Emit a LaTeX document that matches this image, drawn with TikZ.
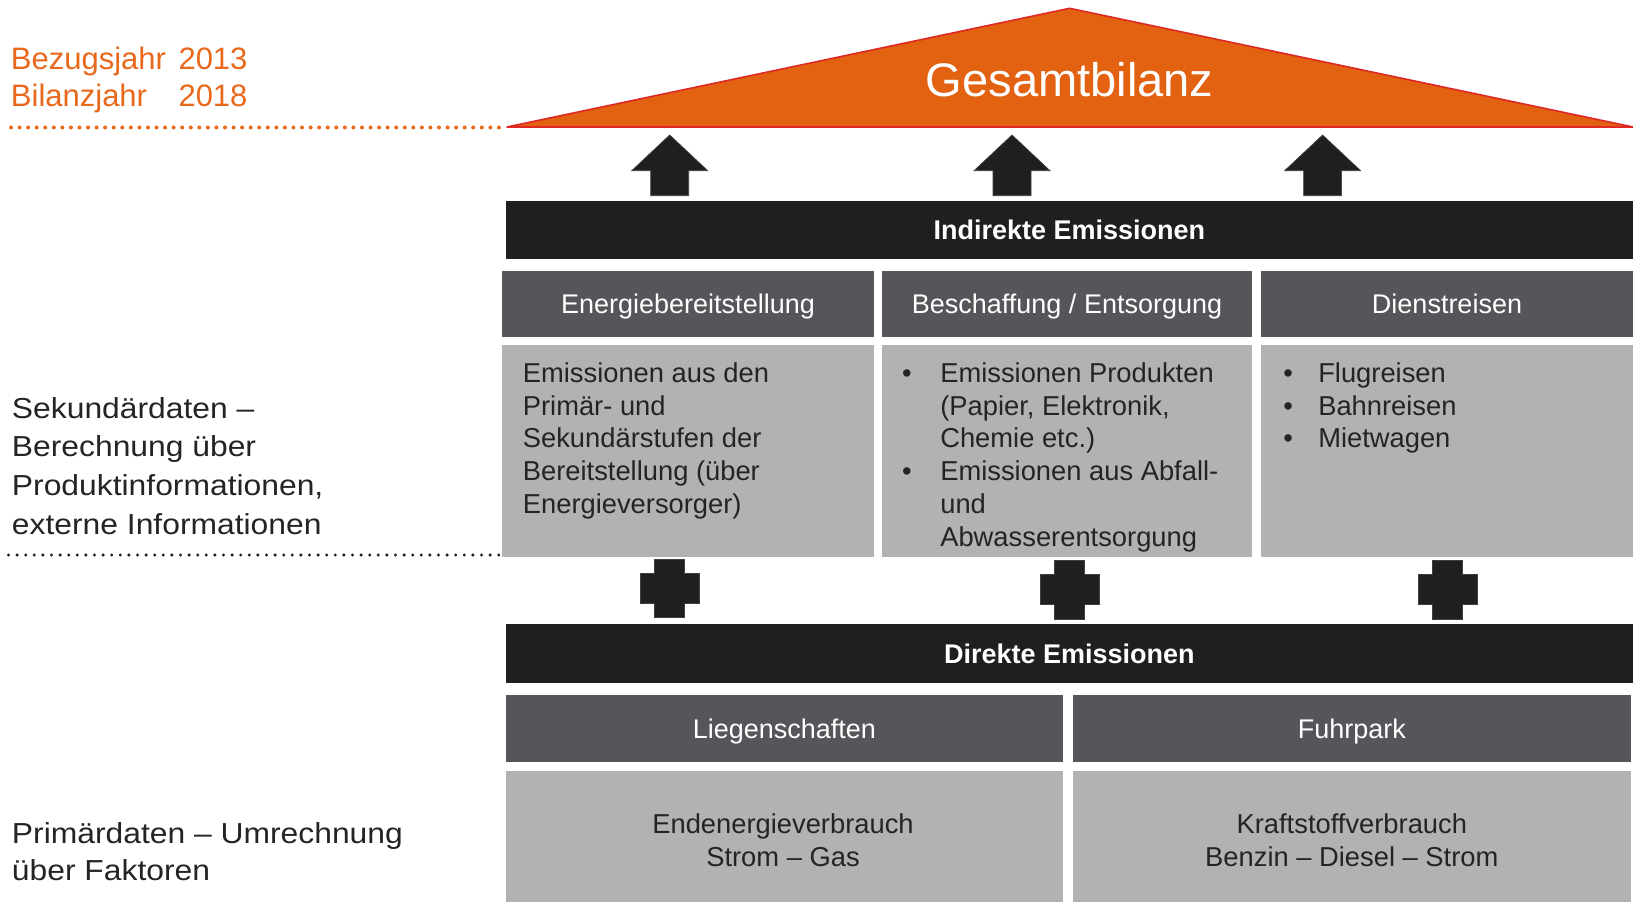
\documentclass[tikz,border=0pt]{standalone}
\usepackage{fontspec}
\setmainfont{Liberation Sans}
\newfontfamily\breitfont[FakeStretch=1.1,Ligatures=TeX]{Liberation Sans}
\usepackage{xcolor}
\definecolor{dachorange}{RGB}{227,98,17}
\definecolor{dachrot}{RGB}{222,40,36}
\definecolor{jahrorange}{RGB}{232,104,28}
\definecolor{balken}{RGB}{31,31,31}
\definecolor{kopfgrau}{RGB}{85,86,90}
\definecolor{feldgrau}{RGB}{178,178,178}
\definecolor{schrift}{RGB}{36,36,36}

\begin{document}
\begin{tikzpicture}[x=0.75pt,y=0.75pt,yscale=-1,xscale=1,
  balkenbox/.style={fill=balken,text=white,inner sep=0pt,minimum width=845.5pt,text depth=0pt,font=\fontsize{20.25}{24}\selectfont\bfseries},
  kopfbox/.style={fill=kopfgrau,text=white,inner sep=0pt,text depth=0pt,font=\fontsize{20.25}{24}\selectfont},
  feldbox/.style={fill=feldgrau,inner sep=0pt},
  feldtext/.style={text=schrift,inner sep=0pt,align=left,font=\fontsize{20.5}{24.7}\selectfont},
  seitentext/.style={text=schrift,inner sep=0pt,align=left},
  blockpfeil/.style={fill=balken,draw=black!75,line width=0.5pt},
  kreuz/.style={fill=balken,draw=black!75,line width=0.5pt}
]
\useasboundingbox (0,0) rectangle (1633,902);

% Dach
\draw  [fill=dachorange,draw=dachrot,line width=1.2pt,line join=round] (507,127) -- (1069.6,8.3) -- (1633,127) -- cycle ;
\draw (1069.6,97) node [anchor=base][inner sep=0pt][text=white][font=\fontsize{35.3}{40}\selectfont] (dach) {Gesamtbilanz};

% Trennlinien
\draw  [color=jahrorange,line width=3pt,line cap=round,dash pattern=on 0pt off 6.42pt]  (11,127.5) -- (507,127.5) ;
\draw  [color=balken,line width=2.5pt,line cap=round,dash pattern=on 0pt off 6.45pt]  (8.5,555) -- (506,555) ;

% Jahre und Datenarten
\draw (10.7,46.5) node [anchor=north west][inner sep=0pt][align=left][text=jahrorange][font=\fontsize{23.25}{28.3}\selectfont] (jahre) {\makebox[125.7pt][l]{Bezugsjahr}2013\\\makebox[125.7pt][l]{Bilanzjahr}2018};
\draw (11.7,397.2) node [anchor=north west][seitentext][font=\breitfont\fontsize{21.7}{28.9}\selectfont] (sekundaer) {Sekundärdaten –\\Berechnung über\\Produktinformationen,\\externe Informationen};
\draw (11.7,822.2) node [anchor=north west][seitentext][font=\breitfont\fontsize{21.7}{27.75}\selectfont] (primaer) {Primärdaten – Umrechnung\\über Faktoren};

% Pfeile nach oben
\draw [blockpfeil,shift={(669.7,0)}] (0,135) -- (38,170.7) -- (19,170.7) -- (19,195.7) -- (-19,195.7) -- (-19,170.7) -- (-38,170.7) -- cycle ;
\draw [blockpfeil,shift={(1012,0)}] (0,135) -- (38,170.7) -- (19,170.7) -- (19,195.7) -- (-19,195.7) -- (-19,170.7) -- (-38,170.7) -- cycle ;
\draw [blockpfeil,shift={(1322.6,0)}] (0,135) -- (38,170.7) -- (19,170.7) -- (19,195.7) -- (-19,195.7) -- (-19,170.7) -- (-38,170.7) -- cycle ;

% Indirekte Emissionen
\draw (1069.35,230.15) node [balkenbox][minimum height=43.7pt] (indirekt) {Indirekte Emissionen};
\draw (688,303.5) node [kopfbox][minimum width=279pt][minimum height=49.5pt] (kEnergie) {Energiebereitstellung};
\draw (1067,303.5) node [kopfbox][minimum width=277.5pt][minimum height=49.5pt] (kBeschaffung) {Beschaffung / Entsorgung};
\draw (1447,303.5) node [kopfbox][minimum width=279pt][minimum height=49.5pt] (kDienst) {Dienstreisen};
\draw (688,450.85) node [feldbox][minimum width=279pt][minimum height=158.8pt] (fEnergie) {};
\draw (1067,450.85) node [feldbox][minimum width=277.5pt][minimum height=158.8pt] (fBeschaffung) {};
\draw (1447,450.85) node [feldbox][minimum width=279pt][minimum height=158.8pt] (fDienst) {};
\draw (522.6,362) node [anchor=north west][feldtext] (tEnergie) {Emissionen aus den\\Primär- und\\Sekundärstufen der\\Bereitstellung (über\\Energieversorger)};
\draw (901.9,362) node [anchor=north west][feldtext] (tBeschaffung) {\makebox[28.6pt][l]{\textbullet}Emissionen Produkten\\\hspace*{28.6pt}(Papier, Elektronik,\\\hspace*{28.6pt}Chemie etc.)\\\makebox[28.6pt][l]{\textbullet}Emissionen aus Abfall-\\\hspace*{28.6pt}und\\\hspace*{28.6pt}Abwasserentsorgung};
\draw (1283.2,362) node [anchor=north west][feldtext] (tDienst) {\makebox[26.1pt][l]{\textbullet}Flugreisen\\\makebox[26.1pt][l]{\textbullet}Bahnreisen\\\makebox[26.1pt][l]{\textbullet}Mietwagen};

% Pluszeichen
\draw [kreuz,shift={(669.7,588.4)}] (-15,-29.3) -- (15,-29.3) -- (15,-15) -- (29.5,-15) -- (29.5,15) -- (15,15) -- (15,29.3) -- (-15,29.3) -- (-15,15) -- (-29.5,15) -- (-29.5,-15) -- (-15,-15) -- cycle ;
\draw [kreuz,shift={(1069.7,589.7)}] (-15,-29.3) -- (15,-29.3) -- (15,-15) -- (29.5,-15) -- (29.5,15) -- (15,15) -- (15,29.3) -- (-15,29.3) -- (-15,15) -- (-29.5,15) -- (-29.5,-15) -- (-15,-15) -- cycle ;
\draw [kreuz,shift={(1447.6,589.7)}] (-15,-29.3) -- (15,-29.3) -- (15,-15) -- (29.5,-15) -- (29.5,15) -- (15,15) -- (15,29.3) -- (-15,29.3) -- (-15,15) -- (-29.5,15) -- (-29.5,-15) -- (-15,-15) -- cycle ;

% Direkte Emissionen
\draw (1069.35,653.35) node [balkenbox][minimum height=44pt] (direkt) {Direkte Emissionen};
\draw (784.35,728.35) node [kopfbox][minimum width=418pt][minimum height=50pt] (kLiegenschaften) {Liegenschaften};
\draw (1351.8,728.35) node [kopfbox][minimum width=418.8pt][minimum height=50pt] (kFuhrpark) {Fuhrpark};
\draw (784.35,836.5) node [feldbox][minimum width=418pt][minimum height=98.25pt] (fLiegenschaften) {};
\draw (1351.8,836.5) node [feldbox][minimum width=418.8pt][minimum height=98.25pt] (fFuhrpark) {};
\draw (783,840) node [feldtext][align=center] (tLiegenschaften) {Endenergieverbrauch\\Strom – Gas};
\draw (1351.8,840) node [feldtext][align=center] (tFuhrpark) {Kraftstoffverbrauch\\Benzin – Diesel – Strom};
\end{tikzpicture}
\end{document}
